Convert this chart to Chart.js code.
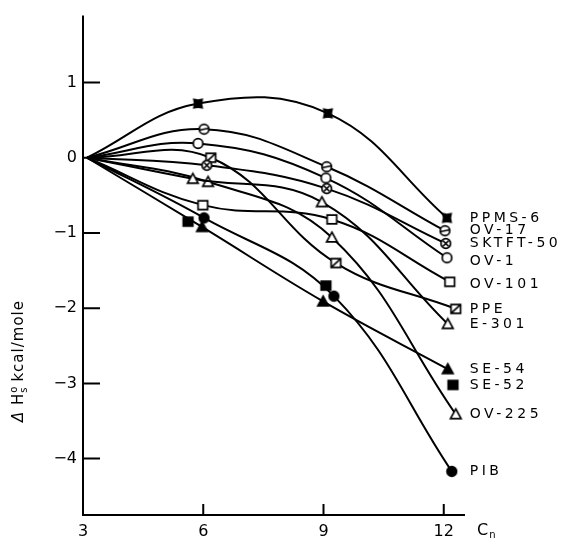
<!DOCTYPE html>
<html>
<head>
<meta charset="utf-8">
<script src="https://cdn.jsdelivr.net/npm/chart.js@4/dist/chart.umd.min.js"></script>
<style>
  html, body { margin: 0; padding: 0; background: #fff; }
  #wrap { width: 566px; height: 539px; }
</style>
</head>
<body>
<div id="wrap"><canvas id="enthalpyChart"></canvas></div>
<script>
// values (x = carbon number, y = dHs kcal/mole)
var xTicks = [3, 6, 9, 12];
var yTicks = [1, 0, -1, -2, -3, -4];

var seriesNames = ['PPMS-6', 'OV-17', 'SKTFT-50', 'OV-1', 'OV-101', 'PPE', 'E-301', 'SE-54', 'SE-52', 'OV-225', 'PIB'];

var ppms6X = [3.1, 5.87, 9.11, 12.08];
var ppms6Y = [0, 0.72, 0.59, -0.80];
var ov17X = [3.1, 6.02, 9.08, 12.03];
var ov17Y = [0, 0.38, -0.12, -0.97];
var sktftX = [3.1, 6.09, 9.08, 12.05];
var sktftY = [0, -0.10, -0.41, -1.14];
var ov1X = [3.1, 5.87, 9.06, 12.08];
var ov1Y = [0, 0.19, -0.27, -1.33];
var ov101X = [3.1, 5.99, 9.21, 12.15];
var ov101Y = [0, -0.63, -0.82, -1.65];
var ppeX = [3.1, 6.19, 9.31, 12.30];
var ppeY = [0, 0.0, -1.40, -2.01];
var e301X = [3.1, 5.74, 8.96, 12.10];
var e301Y = [0, -0.28, -0.59, -2.21];
var se54X = [3.1, 5.97, 8.99, 12.10];
var se54Y = [0, -0.92, -1.91, -2.81];
var se52X = [5.62, 9.06, 12.23];
var se52Y = [-0.85, -1.70, -3.02];
var ov225X = [3.1, 6.12, 9.21, 12.30];
var ov225Y = [0, -0.32, -1.06, -3.41];
var pibX = [3.1, 6.02, 9.26, 12.20];
var pibY = [0, -0.80, -1.84, -4.17];

var seriesX = [ppms6X, ov17X, sktftX, ov1X, ov101X, ppeX, e301X, se54X, se52X, ov225X, pibX];
var seriesY = [ppms6Y, ov17Y, sktftY, ov1Y, ov101Y, ppeY, e301Y, se54Y, se52Y, ov225Y, pibY];
var markerKinds = ['star', 'circleBar', 'circleX', 'circle', 'square', 'squareSlash', 'triangle', 'triangleFill', 'squareFill', 'triangle', 'circleFill'];
var lineShown = [true, true, true, true, true, true, true, true, false, true, true];

function makeMarker(kind) {
  var s = 15, m = 7.5, r = 4.8;
  var c = document.createElement('canvas');
  c.width = s; c.height = s;
  var g = c.getContext('2d');
  g.lineWidth = 1.7;
  g.strokeStyle = '#000';
  g.fillStyle = kind.indexOf('Fill') > -1 || kind == 'star' ? '#000' : '#fff';
  g.beginPath();
  switch (kind) {
    case 'circle': case 'circleFill': case 'circleBar': case 'circleX':
      g.arc(m, m, r, 0, Math.PI * 2);
      break;
    case 'square': case 'squareFill': case 'squareSlash':
      g.rect(m - r, m - r + 0.5, r * 2, r * 2 - 1);
      break;
    case 'triangle': case 'triangleFill':
      g.moveTo(m, m - r - 0.5); g.lineTo(m + r + 0.5, m + r - 0.5); g.lineTo(m - r - 0.5, m + r - 0.5); g.closePath();
      break;
    case 'star':
      for (var i = 0; i < 8; i++) {
        var a = i * Math.PI / 4 - Math.PI / 4;
        var rr = i % 2 == 0 ? r + 1 : r - 1.5;
        if (i == 0) g.moveTo(m + rr * Math.cos(a), m + rr * Math.sin(a));
        else g.lineTo(m + rr * Math.cos(a), m + rr * Math.sin(a));
      }
      g.closePath();
      break;
  }
  g.fill();
  g.stroke();
  g.beginPath();
  if (kind == 'circleBar') { g.moveTo(m - r, m + 1); g.lineTo(m + r, m - 1); }
  if (kind == 'circleX') { g.moveTo(m - 3, m - 3); g.lineTo(m + 3, m + 3); g.moveTo(m + 3, m - 3); g.lineTo(m - 3, m + 3); }
  if (kind == 'squareSlash') { g.moveTo(m - r, m + r - 0.5); g.lineTo(m + r, m - r + 0.5); }
  g.stroke();
  return c;
}

var datasets = [];
for (var i = 0; i < seriesNames.length; i++) {
  var pts = [], radii = [];
  for (var j = 0; j < seriesX[i].length; j++) {
    pts.push({x: seriesX[i][j], y: seriesY[i][j]});
    radii.push(seriesY[i][j] === 0 && seriesX[i][j] < 4 ? 0 : 5);
  }
  datasets.push({
    label: seriesNames[i],
    data: pts,
    showLine: lineShown[i],
    borderColor: '#000',
    borderWidth: 2,
    tension: 0.4,
    pointStyle: makeMarker(markerKinds[i]),
    pointRadius: radii,
    clip: false
  });
}

var drawExtras = {
  id: 'drawExtras',
  afterDraw: function(chart) {
    var ctx = chart.ctx, a = chart.chartArea;
    var xs = chart.scales.x, ys = chart.scales.y;
    ctx.save();
    ctx.strokeStyle = '#000';
    ctx.lineWidth = 2;
    ctx.beginPath();
    ctx.moveTo(a.left, a.top); ctx.lineTo(a.left, a.bottom); ctx.lineTo(a.right, a.bottom);
    // inward tick marks
    yTicks.forEach(function(v) {
      var py = ys.getPixelForValue(v);
      ctx.moveTo(a.left, py); ctx.lineTo(a.left + 17, py);
    });
    xTicks.slice(1).forEach(function(v) {
      var px = xs.getPixelForValue(v);
      ctx.moveTo(px, a.bottom); ctx.lineTo(px, a.bottom - 11);
    });
    ctx.stroke();

    // series names next to the last point
    ctx.fillStyle = '#000';
    ctx.font = '14px "DejaVu Sans"';
    ctx.letterSpacing = '3.5px';
    ctx.textBaseline = 'middle';
    ctx.textAlign = 'left';
    var nudge = {'OV-1': 4, 'OV-101': 3};
    chart.data.datasets.forEach(function(ds, k) {
      var meta = chart.getDatasetMeta(k);
      var last = meta.data[meta.data.length - 1];
      ctx.fillText(ds.label, xs.getPixelForValue(12) + 26, last.y + (nudge[ds.label] || 0));
    });

    // x axis unit: C with subscript n
    ctx.letterSpacing = '0px';
    ctx.font = '16px "DejaVu Sans"';
    var cx = a.right + 12, cy = a.bottom + 16;
    ctx.fillText('C', cx, cy);
    var cw = ctx.measureText('C').width;
    ctx.font = '10px "DejaVu Sans"';
    ctx.fillText('n', cx + cw + 1, cy + 4);

    // rotated y title
    ctx.translate(19, a.bottom - 93);
    ctx.rotate(-Math.PI / 2);
    ctx.letterSpacing = '1px';
    var x0 = 0;
    ctx.font = 'italic 15px "DejaVu Sans"';
    ctx.fillText('Δ', x0, 0); x0 += ctx.measureText('Δ ').width;
    ctx.font = '15px "DejaVu Sans"';
    ctx.fillText('H', x0, 0); x0 += ctx.measureText('H').width;
    ctx.font = '10px "DejaVu Sans"';
    ctx.fillText('o', x0, -5);
    ctx.fillText('s', x0, 5); x0 += ctx.measureText('o').width + 4;
    ctx.font = '15px "DejaVu Sans"';
    ctx.fillText('kcal/mole', x0, 0);
    ctx.restore();
  }
};

Chart.defaults.font.family = 'DejaVu Sans';
Chart.defaults.color = '#000';

var chart = new Chart(document.getElementById('enthalpyChart'), {
  type: 'scatter',
  data: { datasets: datasets },
  options: {
    responsive: true,
    maintainAspectRatio: false,
    animation: false,
    layout: { padding: { top: 8, right: 101, bottom: 0, left: 0 } },
    plugins: { legend: { display: false }, tooltip: { enabled: false } },
    scales: {
      x: {
        type: 'linear',
        min: 3,
        max: 12.53,
        grid: { display: false, drawTicks: false },
        border: { display: false },
        afterBuildTicks: function(scale) { scale.ticks = xTicks.map(function(v) { return {value: v}; }); },
        afterFit: function(scale) { scale.height = 24; },
        ticks: { padding: 7, font: { size: 16 }, maxRotation: 0, autoSkip: false }
      },
      y: {
        type: 'linear',
        min: -4.75,
        max: 1.89,
        grid: { display: false, drawTicks: false },
        border: { display: false },
        afterBuildTicks: function(scale) { scale.ticks = yTicks.map(function(v) { return {value: v}; }); },
        afterFit: function(scale) { scale.width = 83; },
        ticks: {
          padding: 6,
          font: { size: 16 },
          callback: function(v) { return v < 0 ? '\u2212' + Math.abs(v) : '' + v; }
        }
      }
    }
  },
  plugins: [drawExtras]
});
</script>
</body>
</html>
